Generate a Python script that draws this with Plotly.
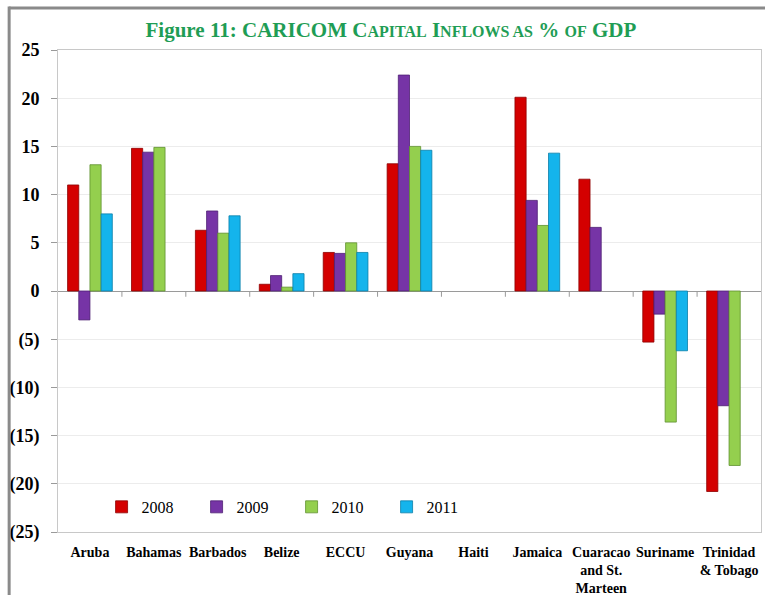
import plotly.graph_objects as go

countries = ["Aruba", "Bahamas", "Barbados", "Belize", "ECCU", "Guyana", "Haiti",
             "Jamaica", "Cuaracao<br>and St.<br>Marteen", "Suriname", "Trinidad<br>& Tobago"]

v2008 = [11.0, 14.8, 6.3, 0.7, 4.0, 13.2, None, 20.1, 11.6, -5.3, -20.8]
v2009 = [-3.0, 14.4, 8.3, 1.6, 3.9, 22.4, None, 9.4, 6.6, -2.4, -11.9]
v2010 = [13.1, 14.9, 6.0, 0.4, 5.0, 15.0, None, 6.8, None, -13.6, -18.1]
v2011 = [8.0, None, 7.8, 1.8, 4.0, 14.6, None, 14.3, None, -6.2, None]

years = ["2008", "2009", "2010", "2011"]
colors = ["#d40000", "#7634a6", "#94cf4e", "#14b4ec"]
edges = ["#8e0000", "#4e1f74", "#5f9130", "#0b7fa8"]

tick_vals = [25, 20, 15, 10, 5, 0, -5, -10, -15, -20, -25]
tick_text = ["25", "20", "15", "10", "5", "0", "(5)", "(10)", "(15)", "(20)", "(25)"]

FONT = "Liberation Serif"

fig = go.Figure()
for name, vals, c, e in zip(years, [v2008, v2009, v2010, v2011], colors, edges):
    fig.add_trace(go.Bar(x=countries, y=vals, name=name,
                         marker=dict(color=c, line=dict(color=e, width=0.8))))

title = ("<b>Figure 11: CARICOM C<span style='font-size:16px'>APITAL</span> "
         "I<span style='font-size:16px'>NFLOWS AS</span> % "
         "<span style='font-size:16px'>OF</span> GDP</b>")

fig.update_layout(
    width=765, height=595,
    margin=dict(l=58, r=4, t=50, b=63, autoexpand=False),
    paper_bgcolor="white", plot_bgcolor="white",
    font=dict(family=FONT, color="black"),
    title=dict(text=title, x=0.511, xanchor="center", y=0.95, yanchor="middle",
               font=dict(family=FONT, size=21, color="#1f9d55")),
    barmode="group", bargap=0.3, bargroupgap=0,
    showlegend=True,
    legend=dict(orientation="h", x=0.062, y=0.052, xanchor="left", yanchor="middle",
                entrywidth=50, font=dict(size=16, family=FONT), bgcolor="rgba(0,0,0,0)",
                itemwidth=30),
)

fig.update_xaxes(showline=True, linecolor="#c8c8c8", mirror=True,
                 tickfont=dict(size=14, family=FONT, color="black"),
                 tickprefix="<b>", ticksuffix="</b>",
                 ticks="outside", ticklen=7, tickcolor="rgba(0,0,0,0)", showgrid=False)
fig.update_yaxes(range=[-25, 25], tickvals=tick_vals, ticktext=["<b>%s</b>" % t for t in tick_text],
                 tickfont=dict(size=18, family=FONT, color="black"),
                 showgrid=True, gridcolor="#ececec", gridwidth=1,
                 zeroline=True, zerolinecolor="#9a9a9a", zerolinewidth=1.2,
                 showline=True, linecolor="#c8c8c8", mirror=True,
                 ticks="outside", ticklen=6, tickcolor="#9a9a9a", ticklabelstandoff=8)

# category separators on the zero line
for i in range(len(countries) - 1):
    fig.add_shape(type="line", xref="x", yref="y", x0=i + 0.5, x1=i + 0.5, y0=0, y1=-0.6,
                  line=dict(color="#9a9a9a", width=1))

# outer frame of the figure (left and top edges)
fig.add_shape(type="line", xref="paper", yref="paper", x0=-0.0695, x1=1.02, y0=1.087, y1=1.087,
              line=dict(color="#8a8a8a", width=3), layer="above")
fig.add_shape(type="line", xref="paper", yref="paper", x0=-0.0695, x1=-0.0695, y0=-0.3, y1=1.09,
              line=dict(color="#8a8a8a", width=3), layer="above")

fig.write_html("out.html", config={"displayModeBar": False},
               post_script="document.body.style.margin='0';")
